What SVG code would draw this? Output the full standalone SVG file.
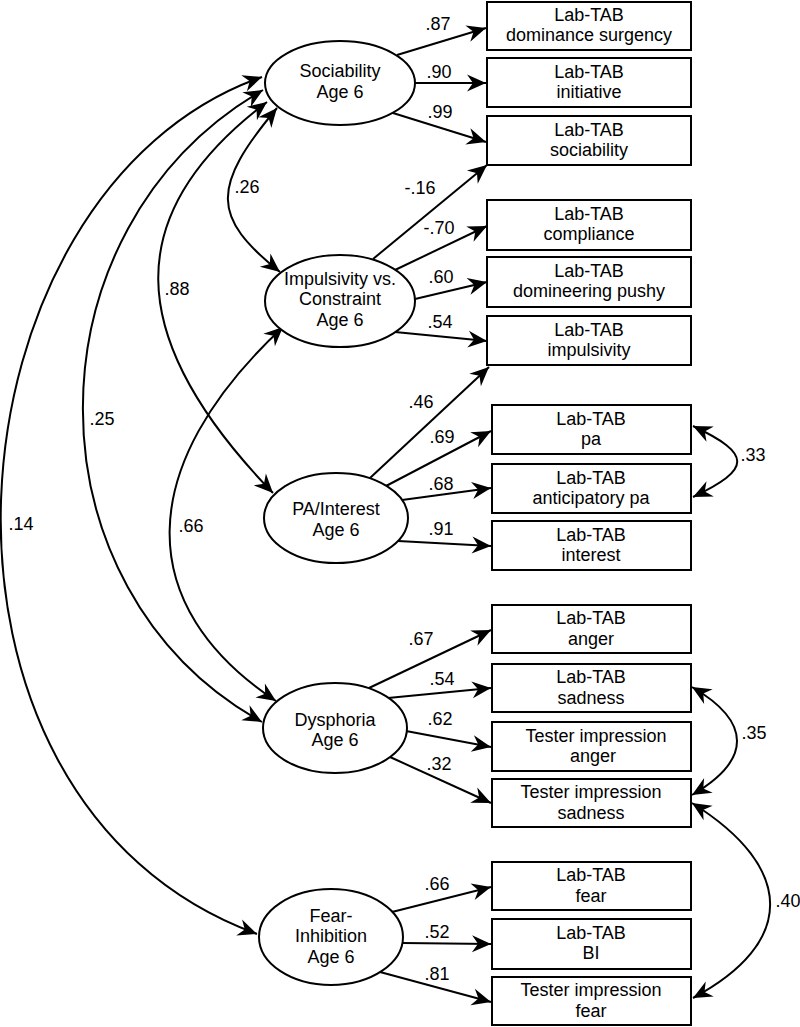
<svg xmlns="http://www.w3.org/2000/svg" width="800" height="1027" viewBox="0 0 800 1027">
<style>
text{font-family:"Liberation Sans",Arial,sans-serif;font-size:18px;fill:#000;text-anchor:middle}
.n rect,.n ellipse{fill:#fff;stroke:#000;stroke-width:2}
#connectors path{fill:none;stroke:#000;stroke-width:2;marker-end:url(#ah)}
#connectors path.bi{marker-start:url(#ah)}
</style>
<defs>
<marker id="ah" viewBox="-21 -11 23 22" markerWidth="23" markerHeight="22" refX="0" refY="0" orient="auto-start-reverse" markerUnits="userSpaceOnUse">
<path d="M0,0 L-19,-8.5 L-13,0 L-19,8.5 Z" fill="#000"/>
</marker>
</defs>
<rect width="800" height="1027" fill="#fff"/>

<g id="connectors">
<path d="M397,55 L486,28"/>
<path d="M415,83 L486,83"/>
<path d="M393,113 L486,142"/>
<path d="M373,259 L487,165"/>
<path d="M395,270 L487,226"/>
<path d="M415,299 L487,282"/>
<path d="M395,332 L487,341"/>
<path d="M370,478 L489,367"/>
<path d="M386,486 L491,431"/>
<path d="M402,500 L491,488"/>
<path d="M398,541 L491,546"/>
<path d="M369,688 L491,630"/>
<path d="M388,698 L491,688"/>
<path d="M406,731 L491,747"/>
<path d="M390,757 L491,803"/>
<path d="M392,912 L491,887"/>
<path d="M403,943 L491,944"/>
<path d="M380,972 L491,1002"/>
<path class="bi" d="M262,77 C-60,190 -110,800 257,934"/>
<path class="bi" d="M263,90 C23,229 23,589 262,722"/>
<path class="bi" d="M267,102 C121,212 121,336 273,493"/>
<path class="bi" d="M277,108 C211,187 211,217 280,272"/>
<path class="bi" d="M283,327 C133,467 133,606 276,701"/>
<path class="bi" d="M693,426 C752,454 752,469 693,497"/>
<path class="bi" d="M692,687 C752,722 752,760 692,795"/>
<path class="bi" d="M692,803 C796,868 796,943 693,998"/>
<text x="438" y="30">.87</text>
<text x="439" y="78">.90</text>
<text x="440" y="118">.99</text>
<text x="420" y="194">-.16</text>
<text x="439" y="234">-.70</text>
<text x="441" y="283">.60</text>
<text x="440" y="328">.54</text>
<text x="421" y="408">.46</text>
<text x="442" y="443">.69</text>
<text x="441" y="490">.68</text>
<text x="441" y="535">.91</text>
<text x="421" y="645">.67</text>
<text x="442" y="685">.54</text>
<text x="440" y="725">.62</text>
<text x="439" y="770">.32</text>
<text x="437" y="890">.66</text>
<text x="437" y="938">.52</text>
<text x="437" y="980">.81</text>
<text x="247" y="193">.26</text>
<text x="177" y="295">.88</text>
<text x="102" y="425">.25</text>
<text x="21" y="530">.14</text>
<text x="191" y="532">.66</text>
<text x="753" y="461">.33</text>
<text x="754" y="739">.35</text>
<text x="788" y="907">.40</text>
</g>

<g id="sociability" class="n"><ellipse cx="340" cy="83" rx="75" ry="42"/><text x="340" y="77">Sociability</text><text x="340" y="97.5">Age 6</text></g>
<g id="impulsivity" class="n"><ellipse cx="340" cy="301" rx="75" ry="46"/><text x="340" y="284.5">Impulsivity vs.</text><text x="340" y="305">Constraint</text><text x="340" y="325.5">Age 6</text></g>
<g id="pa-interest" class="n"><ellipse cx="336" cy="518" rx="72" ry="45"/><text x="336" y="515">PA/Interest</text><text x="336" y="535.5">Age 6</text></g>
<g id="dysphoria" class="n"><ellipse cx="335" cy="728" rx="72" ry="45"/><text x="335" y="725.5">Dysphoria</text><text x="335" y="746">Age 6</text></g>
<g id="fear-inhibition" class="n"><ellipse cx="331" cy="937" rx="72" ry="48"/><text x="331" y="921.5">Fear-</text><text x="331" y="942">Inhibition</text><text x="331" y="962.5">Age 6</text></g>

<g id="box-dominance" class="n"><rect x="487" y="2" width="204" height="48"/><text x="589" y="20.5">Lab-TAB</text><text x="589" y="41">dominance surgency</text></g>
<g id="box-initiative" class="n"><rect x="487" y="58" width="204" height="49"/><text x="589" y="77.5">Lab-TAB</text><text x="589" y="98">initiative</text></g>
<g id="box-sociability" class="n"><rect x="487" y="116" width="204" height="49"/><text x="589" y="135.5">Lab-TAB</text><text x="589" y="156">sociability</text></g>
<g id="box-compliance" class="n"><rect x="487" y="200" width="204" height="50"/><text x="589" y="219.5">Lab-TAB</text><text x="589" y="240">compliance</text></g>
<g id="box-domineering" class="n"><rect x="487" y="257" width="204" height="50"/><text x="589" y="276.5">Lab-TAB</text><text x="589" y="297">domineering pushy</text></g>
<g id="box-impulsivity" class="n"><rect x="487" y="316" width="204" height="49"/><text x="589" y="335.5">Lab-TAB</text><text x="589" y="356">impulsivity</text></g>
<g id="box-pa" class="n"><rect x="492" y="405" width="199" height="49"/><text x="591" y="424.5">Lab-TAB</text><text x="591" y="445">pa</text></g>
<g id="box-anticipatory" class="n"><rect x="492" y="464" width="199" height="49"/><text x="591" y="483.5">Lab-TAB</text><text x="591" y="504">anticipatory pa</text></g>
<g id="box-interest" class="n"><rect x="492" y="521" width="199" height="49"/><text x="591" y="540.5">Lab-TAB</text><text x="591" y="561">interest</text></g>
<g id="box-anger" class="n"><rect x="492" y="605" width="199" height="48"/><text x="591" y="624">Lab-TAB</text><text x="591" y="644.5">anger</text></g>
<g id="box-sadness" class="n"><rect x="492" y="664" width="199" height="48"/><text x="591" y="683">Lab-TAB</text><text x="591" y="703.5">sadness</text></g>
<g id="box-tester-anger" class="n"><rect x="492" y="722" width="199" height="49"/><text x="596" y="741.5">Tester impression</text><text x="593" y="762">anger</text></g>
<g id="box-tester-sadness" class="n"><rect x="492" y="779" width="199" height="48"/><text x="591" y="798">Tester impression</text><text x="591" y="818.5">sadness</text></g>
<g id="box-fear" class="n"><rect x="492" y="862" width="199" height="48"/><text x="591" y="881">Lab-TAB</text><text x="591" y="901.5">fear</text></g>
<g id="box-bi" class="n"><rect x="492" y="919" width="199" height="50"/><text x="591" y="938.5">Lab-TAB</text><text x="591" y="959">BI</text></g>
<g id="box-tester-fear" class="n"><rect x="492" y="977" width="199" height="48"/><text x="591" y="996">Tester impression</text><text x="591" y="1016.5">fear</text></g>
</svg>
